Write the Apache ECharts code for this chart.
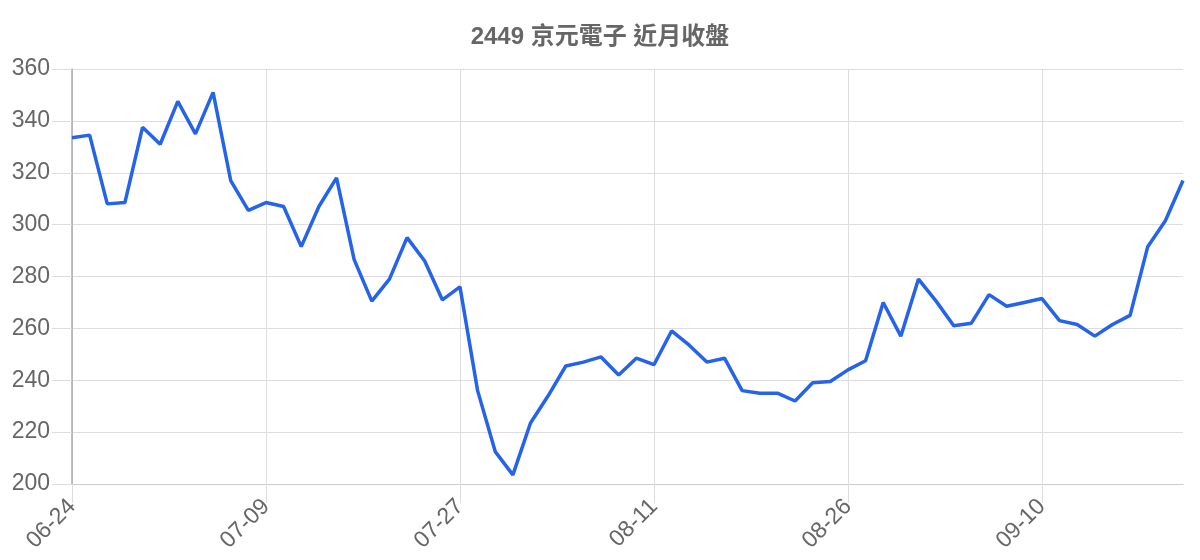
<!DOCTYPE html>
<html>
<head>
<meta charset="utf-8">
<title>2449 京元電子 近月收盤</title>
<script src="https://cdn.jsdelivr.net/npm/echarts@6/dist/echarts.min.js"></script>
<style>
  html, body { margin: 0; padding: 0; background: #fff; }
  #chartBox { width: 1200px; height: 560px; }
</style>
</head>
<body>
<div id="chartBox"></div>
<script>
// 交易日
const dates = [
  '06-24', '06-25', '06-26', '06-27', '06-28', '07-01', '07-02', '07-03', '07-04', '07-05', '07-08',
  '07-09', '07-10', '07-11', '07-12', '07-15', '07-16', '07-17', '07-18', '07-19', '07-22', '07-23',
  '07-27', '07-29', '07-30', '07-31', '08-01', '08-02', '08-05', '08-06', '08-07', '08-08', '08-09',
  '08-11', '08-12', '08-13', '08-14', '08-15', '08-16', '08-19', '08-20', '08-21', '08-22', '08-23',
  '08-26', '08-27', '08-28', '08-29', '08-30', '09-02', '09-03', '09-04', '09-05', '09-06', '09-09',
  '09-10', '09-11', '09-12', '09-13', '09-16', '09-17', '09-18', '09-19', '09-20'
]

// 收盤價
const closePrices = [
  333.5, 334.5, 308, 308.5, 337.5, 331, 347.5, 335, 351, 317, 305.5,
  308.5, 307, 291.5, 307, 318, 286.5, 270.5, 279, 295, 286, 271,
  276, 236, 212.5, 203.5, 223.5, 234, 245.5, 247, 249, 242, 248.5,
  246, 259, 253.5, 247, 248.5, 236, 235, 235, 232, 239, 239.5,
  244, 247.5, 270, 257, 279, 270.5, 261, 262, 273, 268.5, 270,
  271.5, 263, 261.5, 257, 261.5, 265, 291.5, 301.5, 317
]

const yMin = 200
const yMax = 360
const yStep = 20

const chart = echarts.init(document.getElementById('chartBox'))

const chartOptions = {
  animation: false,
  title: {
    text: '2449 京元電子 近月收盤',
    left: 'center',
    top: 20,
    textStyle: {
      color: '#666',
      fontSize: 24,
      fontWeight: 'bold',
      fontFamily: 'Liberation Sans, Noto Sans CJK TC, sans-serif',
    },
  },
  grid: { left: 72, right: 17, top: 69, bottom: 76, containLabel: false },
  xAxis: {
    type: 'category',
    data: dates,
    boundaryGap: false,
    axisLine: { lineStyle: { color: '#ccc', width: 1 } },
    axisTick: { show: true, interval: 10, length: 19, lineStyle: { color: '#ddd' } },
    axisLabel: {
      interval: 10,
      rotate: 45,
      margin: 19,
      color: '#666',
      fontSize: 23,
      fontFamily: 'Liberation Sans, sans-serif',
    },
    splitLine: { show: true, interval: 10, lineStyle: { color: '#ddd', width: 1 } },
  },
  yAxis: {
    type: 'value',
    min: yMin,
    max: yMax,
    interval: yStep,
    axisLine: { show: true, lineStyle: { color: '#aaa', width: 1.5 } },
    axisTick: { show: true, length: 20, lineStyle: { color: '#ddd' } },
    axisLabel: {
      margin: 22,
      color: '#666',
      fontSize: 23,
      fontFamily: 'Liberation Sans, sans-serif',
    },
    splitLine: { show: true, lineStyle: { color: '#ddd', width: 1 } },
  },
  series: [
    {
      name: '收盤',
      type: 'line',
      data: closePrices,
      symbol: 'none',
      lineStyle: { color: '#2563eb', width: 3.5 },
      itemStyle: { color: '#2563eb' },
    },
  ],
}

chart.setOption(chartOptions)
</script>
</body>
</html>
